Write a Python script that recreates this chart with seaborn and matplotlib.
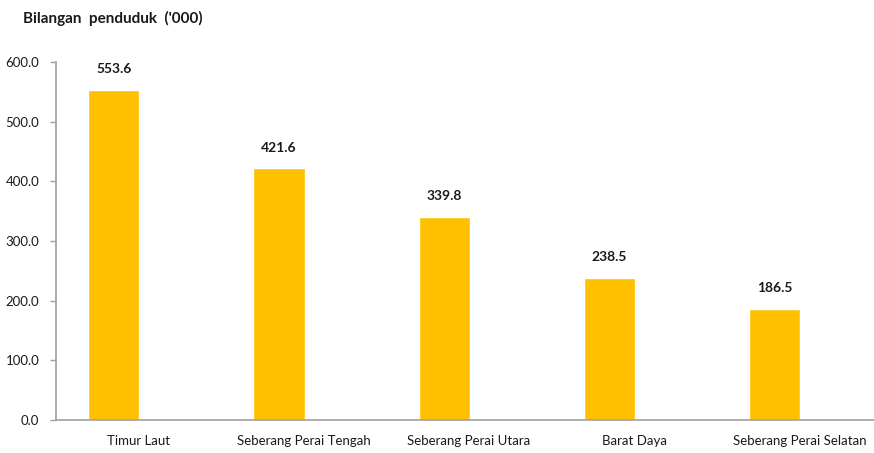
import pandas as pd
import numpy as np
import matplotlib.pyplot as plt
import seaborn as sns

daerah = ["Timur Laut", "Seberang Perai Tengah", "Seberang Perai Utara",
          "Barat Daya", "Seberang Perai Selatan"]
penduduk = [553.6, 421.6, 339.8, 238.5, 186.5]
y_ticks = [0, 100, 200, 300, 400, 500, 600]

df = pd.DataFrame({"daerah": daerah, "penduduk": penduduk})

sns.set_style("white")
plt.rcParams['font.family'] = ['Lato', 'DejaVu Sans']

fig = plt.figure(figsize=(8.74, 4.53), dpi=100)
ax = fig.add_axes([0.064, 0.073, 0.936, 0.79])

sns.barplot(data=df, x="daerah", y="penduduk", color="#FFC000",
            saturation=1, width=0.31, ax=ax)

for i, v in enumerate(penduduk):
    ax.annotate("{:.1f}".format(v), (i, v), xytext=(0, 15), textcoords="offset points",
                ha="center", va="center", fontsize=10, fontweight="bold", color="#1a1a1a")

ax.set_xlim(-0.35, 4.6)
ax.set_ylim(0, 600)
ax.set_yticks(y_ticks)
ax.set_yticklabels(["{:.1f}".format(t) for t in y_ticks], fontsize=9.5, color="#1a1a1a")
ax.set_xticks([i + 0.15 for i in range(len(daerah))])
ax.set_xticklabels(daerah, fontsize=9.5, color="#1a1a1a")
ax.tick_params(axis="x", length=0, pad=11)
ax.tick_params(axis="y", length=4, width=1, color="#A0A0A0", pad=8, left=True)
ax.set_xlabel("")
ax.set_ylabel("")

for s in ["top", "right"]:
    ax.spines[s].set_visible(False)
for s in ["left", "bottom"]:
    ax.spines[s].set_color("#A0A0A0")
    ax.spines[s].set_linewidth(1.2)

fig.text(0.026, 0.96, "Bilangan  penduduk  ('000)", fontsize=11, fontweight="bold",
         color="#1a1a1a", ha="left", va="center")

fig.savefig("out.png", dpi=100)
